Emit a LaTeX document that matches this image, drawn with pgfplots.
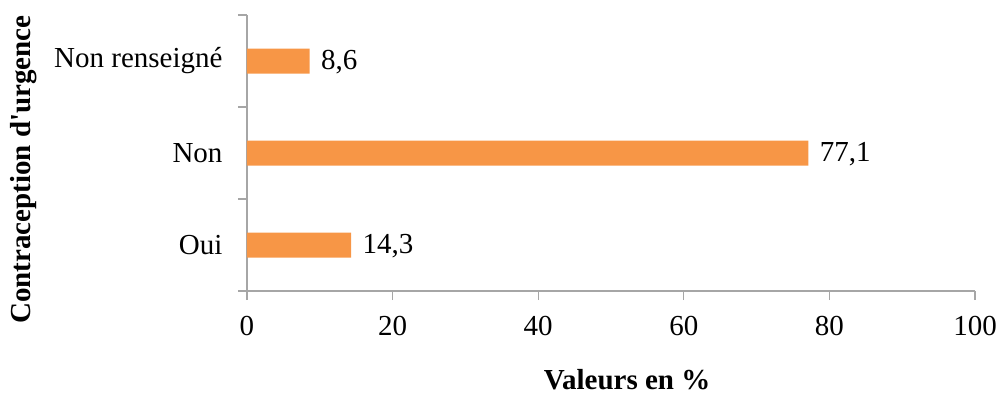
\documentclass[border=0pt]{standalone}
\usepackage{fontspec}
\setmainfont{Liberation Serif}
\newfontfamily\rawserif{Liberation Serif}
\usepackage{pgfplots}
\pgfplotsset{compat=1.18}
\definecolor{barorange}{HTML}{F79646}
\definecolor{axgray}{HTML}{A6A6A6}
\begin{document}
\begin{tikzpicture}
\useasboundingbox (-247pt,-114pt) rectangle (753pt,291pt);
\begin{axis}[
  scale only axis,
  width=728pt, height=276pt,
  anchor=south west, at={(0pt,0pt)},
  xbar, bar width=25pt,
  xmin=0, xmax=100,
  ymin=-0.5, ymax=2.5,
  xtick={0,20,40,60,80,100},
  ytick={0,1,2},
  yticklabels={Oui,Non,Non renseigné},
  minor ytick={-0.5,0.5,1.5,2.5},
  axis x line*=bottom, axis y line*=left,
  axis line style={axgray, line width=1.2pt},
  every tick/.style={axgray, line width=1.2pt},
  major tick length=9pt,
  minor tick length=9pt,
  major y tick style={draw=none},
  tick align=outside,
  tick label style={font=\fontsize{29}{34}\selectfont, black},
  /pgf/number format/assume math mode=true,
  xticklabel style={yshift=-13pt},
  yticklabel style={xshift=-12pt},
  point meta=explicit symbolic,
  nodes near coords,
  nodes near coords align={horizontal},
  every node near coord/.append style={font=\fontsize{29}{34}\selectfont, black, anchor=west, xshift=8pt, yshift=-1pt},
  xlabel={\textbf{Valeurs en \%}},
  ylabel={{\rawserif\bfseries Contraception d'urgence}},
  label style={font=\fontsize{29}{34}\selectfont},
  xlabel style={at={(axis description cs:0.522,-0.322)}, anchor=center},
  ylabel style={at={(axis description cs:-0.307,0.44)}, anchor=center},
]
\addplot[fill=barorange, draw=none] coordinates {(14.3,0) [14,3] (77.1,1) [77,1] (8.6,2) [8,6]};
\end{axis}
\end{tikzpicture}
\end{document}
